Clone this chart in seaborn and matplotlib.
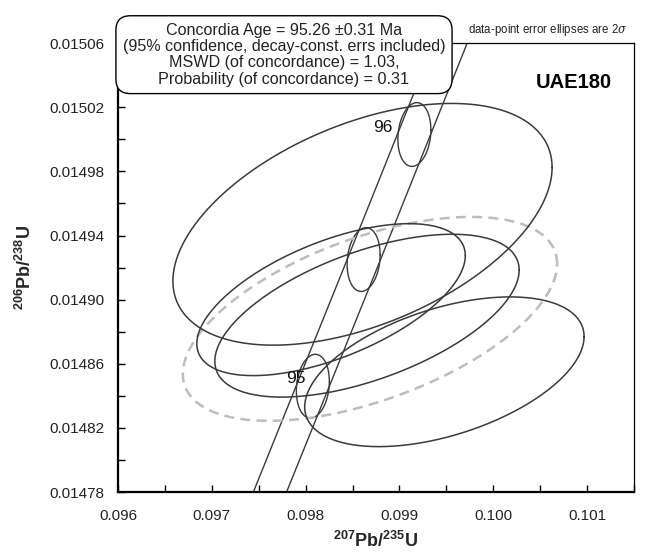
import numpy as np
import seaborn as sns
import matplotlib
matplotlib.use("Agg")
import matplotlib.pyplot as plt
from matplotlib.ticker import MultipleLocator, FormatStrFormatter

#%% data

# data-point error ellipses (2 sigma half extents + error correlation)
pb207_u235 = [0.098606, 0.098271, 0.098654, 0.099479]
pb206_u238 = [0.014947, 0.014900, 0.014890, 0.014855]
err_207 = [0.002021, 0.001431, 0.001622, 0.001489]
err_206 = [0.0000754, 0.0000474, 0.0000508, 0.0000467]
rho = [0.47, 0.58, 0.56, 0.47]

# mean ellipse (grey dashed)
mean_x, mean_y = 0.098686, 0.014888
mean_ex, mean_ey, mean_rho = 0.001995, 0.0000636, 0.54

# concordia band edges (decay-constant errors)
band_y = [0.01478, 0.01492, 0.01506]
band_left_x = [0.097443, 0.098408, 0.099368]
band_right_x = [0.097797, 0.098764, 0.099722]

# age ticks on concordia (Ma)
tick_age = [95, 95.5, 96]
tick_x = [0.098077, 0.098618, 0.099159]
tick_y = [0.014846, 0.014925, 0.015003]
tick_ex, tick_ey, tick_rho = 0.000176, 0.0000199, 0.15

info = ("Concordia Age = 95.26 \u00b10.31 Ma\n"
        "(95% confidence, decay-const. errs included)\n"
        "MSWD (of concordance) = 1.03,\n"
        "Probability (of concordance) = 0.31")
sample = "UAE180"


def ellipse_pts(cx, cy, ex, ey, r, n=300):
    t = np.linspace(0, 2 * np.pi, n)
    return cx + ex * np.cos(t), cy + ey * (r * np.cos(t) + np.sqrt(1 - r**2) * np.sin(t))


#%% plot
sns.set_style("ticks")
plt.rcParams['font.family'] = ['Liberation Sans', 'DejaVu Sans']
plt.rcParams['mathtext.fontset'] = 'custom'
plt.rcParams['mathtext.rm'] = 'Liberation Sans'
plt.rcParams['mathtext.bf'] = 'Liberation Sans:bold'
plt.rcParams['mathtext.it'] = 'DejaVu Serif:italic'

fig = plt.figure(figsize=(6.5, 5.54), dpi=100)
ax = fig.add_axes([118 / 650, 62 / 554, 516 / 650, 449 / 554])

line_col = '#3a3a3a'
sns.lineplot(x=band_left_x, y=band_y, sort=False, estimator=None, color=line_col, lw=1.0, ax=ax)
sns.lineplot(x=band_right_x, y=band_y, sort=False, estimator=None, color=line_col, lw=1.0, ax=ax)

for cx, cy in zip(tick_x, tick_y):
    ex_, ey_ = ellipse_pts(cx, cy, tick_ex, tick_ey, tick_rho)
    sns.lineplot(x=ex_, y=ey_, sort=False, estimator=None, color=line_col, lw=1.0, ax=ax)

for age, cx, cy in zip(tick_age, tick_x, tick_y):
    if age == int(age):
        off = (-32, 7) if age == 96 else (-17, 8)
        ax.annotate(str(int(age)), (cx, cy), xytext=off, textcoords='offset pixels',
                    ha='center', va='center', fontsize=12.5, color='#111111')

mx, my = ellipse_pts(mean_x, mean_y, mean_ex, mean_ey, mean_rho)
ax.plot(mx, my, color='#bdbdbd', lw=1.8, ls=(0, (4, 2.5)))

for cx, cy, ex, ey, r in zip(pb207_u235, pb206_u238, err_207, err_206, rho):
    px, py = ellipse_pts(cx, cy, ex, ey, r)
    sns.lineplot(x=px, y=py, sort=False, estimator=None, color=line_col, lw=1.1, ax=ax)

ax.set_xlim(0.096, 0.1015)
ax.set_ylim(0.01478, 0.0150601)
ax.xaxis.set_major_locator(MultipleLocator(0.001))
ax.xaxis.set_minor_locator(MultipleLocator(0.0005))
ax.yaxis.set_major_locator(MultipleLocator(0.00004, offset=0.00002))
ax.yaxis.set_minor_locator(MultipleLocator(0.00002))
ax.xaxis.set_major_formatter(FormatStrFormatter('%.3f'))
ax.yaxis.set_major_formatter(FormatStrFormatter('%.5f'))
ax.tick_params(which='both', direction='in', length=5, width=1, colors='black',
               labelsize=11, labelcolor='#222222')
ax.tick_params(axis='x', pad=12)
ax.tick_params(axis='y', pad=10)

for s in ['left', 'bottom']:
    ax.spines[s].set_linewidth(1.6)
for s in ['top', 'right']:
    ax.spines[s].set_linewidth(0.9)
for s in ax.spines.values():
    s.set_color('black')

ax.set_xlabel(r"$\mathbf{^{207}Pb/^{235}U}$", fontsize=13, labelpad=6)
ax.set_ylabel(r"$\mathbf{^{206}Pb/^{238}U}$", fontsize=13, labelpad=10)

ax.text(0.3217, 0.974, info, transform=ax.transAxes, ha='center', va='center',
        multialignment='center', fontsize=11.6, linespacing=1.12, color='#222222',
        zorder=10, clip_on=False,
        bbox=dict(boxstyle='round,pad=0.42,rounding_size=0.9', fc='white', ec='black', lw=1.0))
ax.text(0.678, 1.029, r"data-point error ellipses are 2$\sigma$", transform=ax.transAxes,
        ha='left', va='center', fontsize=8.3, color='#222222', clip_on=False)
ax.text(0.884, 0.913, sample, transform=ax.transAxes, ha='center', va='center',
        fontsize=14.5, fontweight='bold', color='black')

plt.savefig('out.png', dpi=100)
